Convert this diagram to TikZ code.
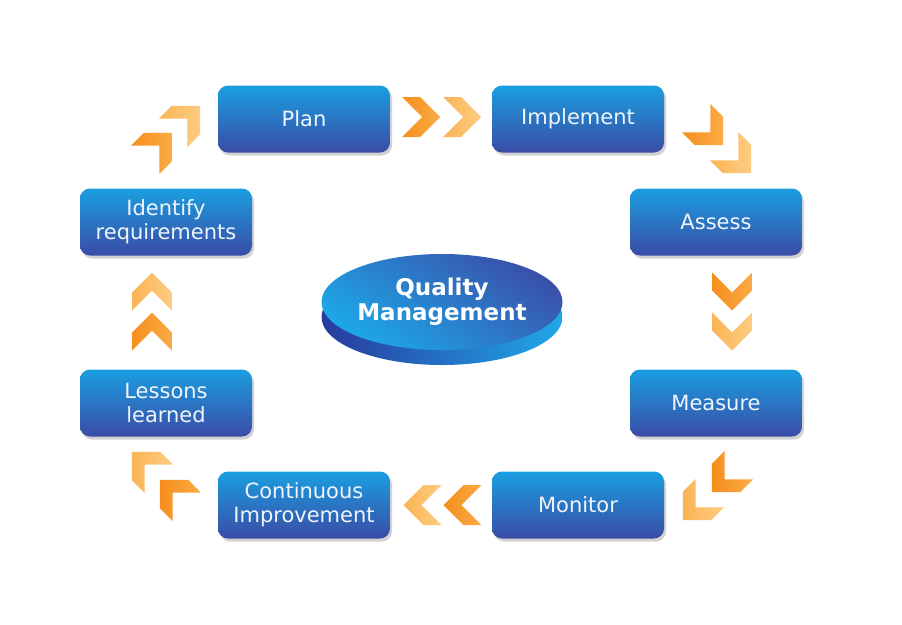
\documentclass[tikz,border=0pt]{standalone}
\usepackage{fontspec}
\setmainfont{DejaVu Sans}
\usetikzlibrary{shadows,shapes.geometric}
\definecolor{boxtop}{RGB}{26,158,224}
\definecolor{boxbot}{RGB}{58,76,166}
\definecolor{chevdarkA}{RGB}{246,142,30}
\definecolor{chevdarkB}{RGB}{250,172,70}
\definecolor{chevlightA}{RGB}{251,180,85}
\definecolor{chevlightB}{RGB}{253,204,130}
\definecolor{sidedark}{RGB}{40,58,158}
\definecolor{sidelight}{RGB}{32,168,232}
\definecolor{facetop}{RGB}{58,80,170}
\definecolor{facebot}{RGB}{28,168,232}
\definecolor{labeltext}{RGB}{240,244,252}
\tikzset{
  stagebox/.style={rounded corners=10pt, minimum width=172pt, minimum height=67pt,
    top color=boxtop, bottom color=boxbot, draw=none, text=labeltext,
    font=\fontsize{21}{24}\selectfont, align=center, inner sep=0pt,
    drop shadow={opacity=0.35, shadow xshift=2pt, shadow yshift=-3pt}},
  chevdark/.style={left color=chevdarkA, right color=chevdarkB},
  chevlight/.style={left color=chevlightA, right color=chevlightB},
}
\newcommand{\chev}[4]{%
  \path[#4, shift={(#1,#2)}, rotate=#3]
    (-19,-20) -- (-1,-20) -- (19,0) -- (-1,20) -- (-19,20) -- (1,0) -- cycle;}
\begin{document}
\begin{tikzpicture}[x=1pt,y=-1pt]
\useasboundingbox[fill=white] (0,0) rectangle (902,624);

% stage boxes
\node[stagebox] (plan) at (304,119) {Plan};
\node[stagebox] (impl) at (578,119) {Implement};
\node[stagebox] (assess) at (716,222) {Assess};
\node[stagebox] (measure) at (716,403) {Measure};
\node[stagebox] (monitor) at (578,505) {Monitor};
\node[stagebox] (contimp) at (304,505) {Continuous\\Improvement};
\node[stagebox] (lessons) at (166,403) {Lessons\\learned};
\node[stagebox] (identify) at (166,222) {Identify\\requirements};

% chevrons
\chev{421}{117}{0}{chevdark}
\chev{462}{117}{0}{chevlight}
\chev{709.6}{131.6}{-45}{chevdark}
\chev{737.6}{159.6}{-45}{chevlight}
\chev{732}{291.5}{-90}{chevdark}
\chev{732}{331.5}{-90}{chevlight}
\chev{725.4}{478.6}{-135}{chevdark}
\chev{696.4}{506.6}{-135}{chevlight}
\chev{462.5}{505}{180}{chevdark}
\chev{422.5}{505}{180}{chevlight}
\chev{173.4}{493.4}{135}{chevdark}
\chev{145.4}{465.4}{135}{chevlight}
\chev{152}{331.5}{90}{chevdark}
\chev{152}{291.5}{90}{chevlight}
\chev{158.6}{146.4}{45}{chevdark}
\chev{186.6}{119.4}{45}{chevlight}

% central disc
\node[ellipse, minimum width=241pt, minimum height=96pt, inner sep=0pt,
  left color=sidedark, right color=sidelight] (qmbase) at (442,317) {};
\node[ellipse, minimum width=241pt, minimum height=96pt, inner sep=0pt,
  top color=facetop, bottom color=facebot, shading angle=-35] (qmtop) at (442,302) {};
\node[font=\bfseries\fontsize{23}{25}\selectfont, text=white, align=center] (qm) at (qmtop.center) {Quality\\Management};
\end{tikzpicture}
\end{document}
